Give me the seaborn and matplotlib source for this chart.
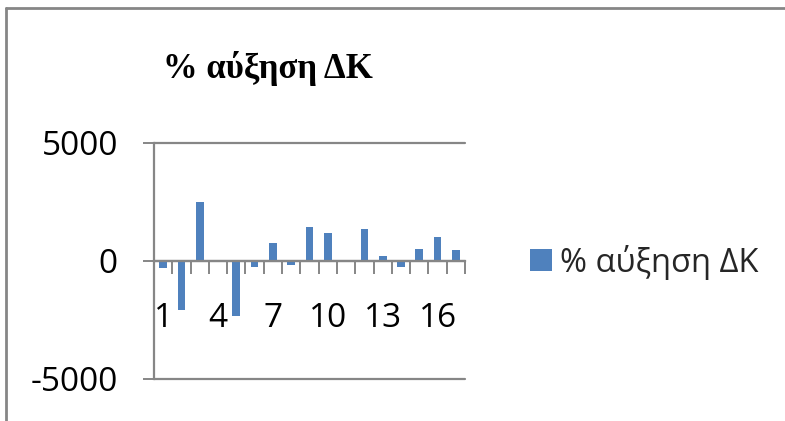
import matplotlib
matplotlib.use("Agg")
import matplotlib.pyplot as plt
from matplotlib.lines import Line2D
import seaborn as sns
import pandas as pd

# Percentage change per period
categories = [str(i) for i in range(1, 18)]
values = [-300, -2100, 2500, 0, -2330, -250, 730, -200, 1410,
          1160, 0, 1360, 200, -250, 490, 990, 470]
series_name = "% αύξηση ΔΚ"
label_every = 3
y_ticks = [-5000, 0, 5000]

sns.set_theme(style="white")
plt.rcParams["font.family"] = ["Open Sans", "DejaVu Sans"]

W, H = 785, 421
grey = "#868686"
bar_color = "#4F81BD"

fig = plt.figure(figsize=(W / 100, H / 100), dpi=100)
fig.patch.set_facecolor("white")

left, right, top, bottom = 154, 465, 142.7, 378.7
ax = fig.add_axes([left / W, 1 - bottom / H, (right - left) / W, (bottom - top) / H])

df = pd.DataFrame({"period": categories, "value": values})
sns.barplot(data=df, x="period", y="value", order=categories, color=bar_color,
            saturation=1, width=0.42, ax=ax, label=series_name, linewidth=0)

ax.set_ylim(-5000, 5000)
ax.set_xlim(-0.5, len(categories) - 0.5)
ax.set_xlabel("")
ax.set_ylabel("")

# horizontal gridlines and y ticks
ax.set_yticks(y_ticks)
ax.set_yticklabels([str(v) for v in y_ticks])
ax.yaxis.grid(True, color=grey, linewidth=1.6)
for gl in ax.get_ygridlines():
    gl.set_clip_on(False)
ax.tick_params(axis="y", which="major", direction="out", length=8, width=1.4,
               color=grey, pad=18, labelsize=24, left=True)

# category axis drawn on the zero line
for s in ("top", "right"):
    ax.spines[s].set_visible(False)
ax.spines["left"].set_color(grey)
ax.spines["left"].set_linewidth(1.6)
ax.spines["bottom"].set_position(("data", 0))
ax.spines["bottom"].set_color(grey)
ax.spines["bottom"].set_linewidth(1.6)

major_pos = list(range(0, len(categories), label_every))
ax.set_xticks(major_pos)
ax.set_xticklabels([categories[i] for i in major_pos])
ax.set_xticks([i + 0.5 for i in range(len(categories))], minor=True)
ax.tick_params(axis="x", which="major", length=0, pad=30, labelsize=24, bottom=True)
ax.tick_params(axis="x", which="minor", direction="out", length=9.4, width=1.4,
               color=grey, bottom=True)
for lbl in ax.get_xticklabels() + ax.get_yticklabels():
    lbl.set_color("black")

# title
fig.text(268 / W, 1 - 78 / H, series_name, ha="center", va="baseline",
         fontsize=25, fontweight="bold", family=["Liberation Serif", "DejaVu Serif"],
         color="black")

# legend
handles, labels = ax.get_legend_handles_labels()
if ax.get_legend() is not None:
    ax.get_legend().remove()
fig.legend(handles[:1], labels[:1], loc="center left",
           bbox_to_anchor=(530 / W, 1 - 262 / H), frameon=False, fontsize=23.5,
           handlelength=0.68, handleheight=0.68, handletextpad=0.25,
           borderpad=0, borderaxespad=0)

# chart frame
fig.add_artist(Line2D([6 / W, 1], [1 - 8 / H, 1 - 8 / H], color=grey, linewidth=2,
                      transform=fig.transFigure))
fig.add_artist(Line2D([6 / W, 6 / W], [0, 1 - 8 / H], color=grey, linewidth=2,
                      transform=fig.transFigure))

fig.savefig("out.png", dpi=100)
